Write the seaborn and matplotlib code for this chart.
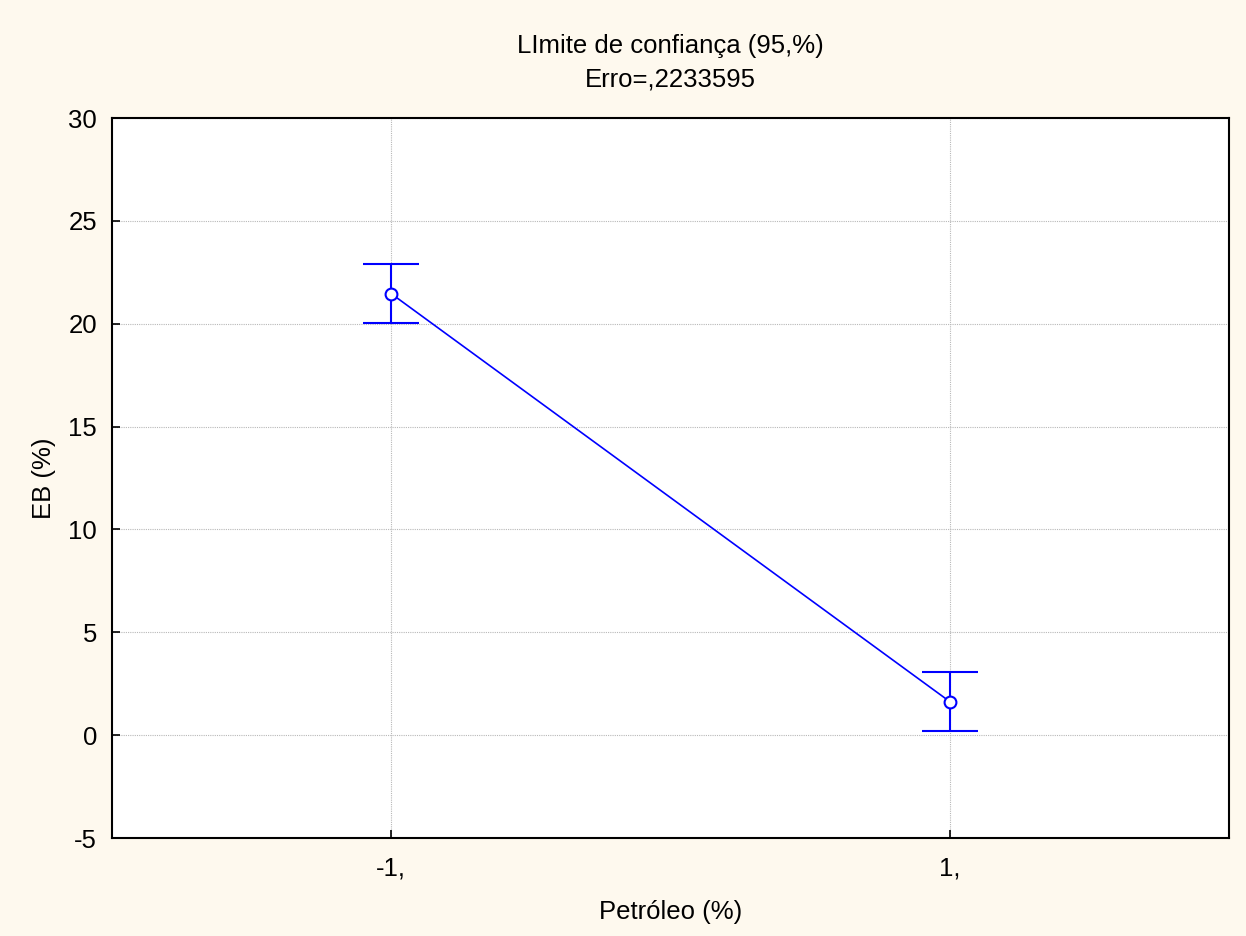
import matplotlib
matplotlib.use("Agg")
import matplotlib.pyplot as plt
import seaborn as sns
import pandas as pd

# Mean EB (%) at each coded petroleum level, with 95% confidence half-widths
levels = [-1, 1]
level_labels = ["-1,", "1,"]
eb_means = [21.46, 1.63]
eb_halfwidth = [1.44, 1.44]
y_ticks = [-5, 0, 5, 10, 15, 20, 25, 30]

sns.set_theme(style="white")
plt.rcParams["font.family"] = ["Liberation Sans", "DejaVu Sans"]
plt.rcParams["axes.unicode_minus"] = False

FS = 18.5
df = pd.DataFrame({"level": levels, "eb": eb_means})

fig = plt.figure(figsize=(12.46, 9.36), dpi=100, facecolor="#fef9ee")
ax = fig.add_axes([0.0899, 0.1047, 0.8965, 0.7692])
ax.set_facecolor("white")

ax.errorbar(levels, eb_means, yerr=eb_halfwidth, fmt="none", ecolor="#0000ff",
            elinewidth=1.5, capsize=20.5, capthick=1.5, zorder=3)
sns.lineplot(data=df, x="level", y="eb", ax=ax, color="#0000ff", linewidth=1.2,
             marker="o", markersize=8.5, markerfacecolor="white",
             markeredgecolor="#0000ff", markeredgewidth=1.5, zorder=4)

ax.set_xlim(-2, 2)
ax.set_ylim(-5, 30)
ax.set_xticks(levels)
ax.set_xticklabels(level_labels)
ax.set_yticks(y_ticks)
ax.tick_params(direction="in", length=6, width=1.2, labelsize=FS,
               colors="black", left=True, bottom=True)
ax.tick_params(axis="x", pad=13)
ax.tick_params(axis="y", pad=10.8)
ax.grid(True, linestyle=(0, (1, 1)), color="#b8b8b8", linewidth=0.8)
for s in ax.spines.values():
    s.set_color("black")
    s.set_linewidth(1.5)

ax.set_xlabel("Petróleo (%)", fontsize=FS, labelpad=14.6, color="black")
ax.set_ylabel("EB (%)", fontsize=FS, labelpad=8.6, color="black")
ax.set_title("LImite de confiança (95,%)\nErro=,2233595", fontsize=FS,
             pad=23, color="black", linespacing=1.5)

fig.savefig("out.png", dpi=100, facecolor=fig.get_facecolor())
